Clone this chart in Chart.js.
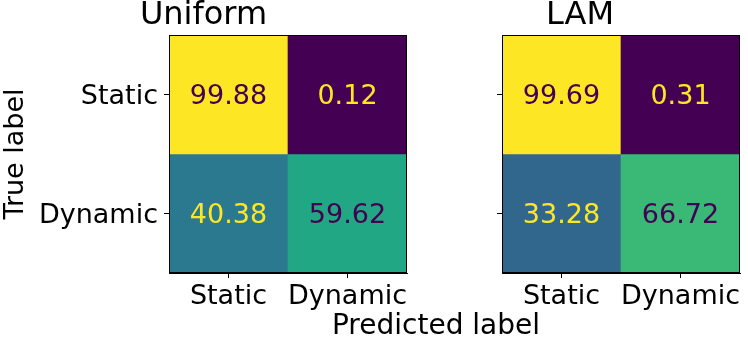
<!DOCTYPE html>
<html>
<head>
<meta charset="utf-8">
<script src="https://cdn.jsdelivr.net/npm/chart.js@4"></script>
<style>
  html, body { margin: 0; padding: 0; background: #fff; }
  #wrap { position: relative; width: 748px; height: 340px; overflow: hidden; font-family: 'DejaVu Sans', sans-serif; }
  #boxA { position: absolute; left: 0; top: 0; width: 420px; height: 340px; }
  #boxB { position: absolute; left: 420px; top: 0; width: 328px; height: 340px; }
  #xlabel { position: absolute; left: 236px; top: 311px; width: 400px; text-align: center;
            font-size: 28px; line-height: 28px; color: #000; }
</style>
</head>
<body>
<div id="wrap">
  <div id="boxA"><canvas id="chartA"></canvas></div>
  <div id="boxB"><canvas id="chartB"></canvas></div>
  <div id="xlabel">Predicted label</div>
</div>
<script>
// ---- datos ----
const classLabels = ['Static', 'Dynamic'];
const uniformTitle = 'Uniform';
const lamTitle = 'LAM';
// filas = etiqueta real, columnas = etiqueta predicha (%)
const uniformStatic = [99.88, 0.12];
const uniformDynamic = [40.38, 59.62];
const lamStatic = [99.69, 0.31];
const lamDynamic = [33.28, 66.72];

const FONT = 'DejaVu Sans';

// mapa de color viridis (paradas cada 0.1)
const viridisStops = ['#440154', '#482475', '#414487', '#355f8d', '#2a788e', '#21918c',
                      '#22a884', '#44bf70', '#7ad151', '#bddf26', '#fde725'];

function hexToRgb(h) {
    return [parseInt(h.slice(1, 3), 16), parseInt(h.slice(3, 5), 16), parseInt(h.slice(5, 7), 16)];
}

function viridis(t) {
    t = Math.max(0, Math.min(1, t));
    const pos = t * (viridisStops.length - 1);
    const i = Math.min(Math.floor(pos), viridisStops.length - 2);
    const f = pos - i;
    const a = hexToRgb(viridisStops[i]);
    const b = hexToRgb(viridisStops[i + 1]);
    const c = a.map((v, k) => Math.round(v + (b[k] - v) * f));
    return 'rgb(' + c.join(',') + ')';
}

/**
 * Texto de valores dentro de cada celda
 */
const cellTextPlugin = {
    id: 'cellText',
    afterDatasetsDraw(chart) {
        const ctx = chart.ctx;
        const { vmin, vmax } = chart.options.plugins.cellText;
        const thresh = (vmin + vmax) / 2;
        ctx.save();
        ctx.font = '27px "' + FONT + '"';
        ctx.textAlign = 'center';
        ctx.textBaseline = 'middle';
        chart.data.datasets.forEach((ds, di) => {
            const meta = chart.getDatasetMeta(di);
            meta.data.forEach((el, j) => {
                const v = ds.values[j];
                ctx.fillStyle = v < thresh ? viridis(1) : viridis(0);
                ctx.fillText(v.toFixed(2), el.x, (el.y + el.base) / 2 + 2);
            });
        });
        ctx.restore();
    }
};

/**
 * Marco negro alrededor del 치rea del gr치fico
 */
const framePlugin = {
    id: 'frame',
    afterDraw(chart) {
        const a = chart.chartArea;
        const ctx = chart.ctx;
        ctx.save();
        ctx.strokeStyle = '#000';
        ctx.lineWidth = 1;
        ctx.strokeRect(Math.round(a.left) + 0.5, Math.round(a.top) + 0.5,
                       Math.round(a.right - a.left) - 1, Math.round(a.bottom - a.top) - 1);
        ctx.restore();
    }
};

function makeMatrix(canvasId, title, rows, yAxisWidth, rightPad, showYLabels) {
    const all = rows.flat();
    const vmin = Math.min(...all);
    const vmax = Math.max(...all);
    const datasets = rows.map((row, r) => ({
        label: classLabels[r],
        data: row.map(() => [r, r + 1]),
        values: row,
        backgroundColor: row.map(v => viridis((v - vmin) / (vmax - vmin))),
        borderWidth: 0,
        grouped: false,
        barPercentage: 1,
        categoryPercentage: 1
    }));

    return new Chart(document.getElementById(canvasId), {
        type: 'bar',
        data: { labels: classLabels, datasets: datasets },
        plugins: [cellTextPlugin, framePlugin],
        options: {
            responsive: true,
            maintainAspectRatio: false,
            animation: false,
            layout: { padding: { left: 0, right: rightPad, top: 0, bottom: 0 } },
            plugins: {
                legend: { display: false },
                tooltip: { enabled: false },
                title: {
                    display: true,
                    text: title,
                    color: '#000',
                    font: { family: FONT, size: 32, weight: 'normal', lineHeight: 1.0 },
                    padding: { top: 0, bottom: 3 }
                },
                cellText: { vmin: vmin, vmax: vmax }
            },
            scales: {
                x: {
                    type: 'category',
                    offset: true,
                    grid: { offset: false, drawOnChartArea: false, tickLength: 5, color: '#000' },
                    border: { display: true, color: '#000' },
                    ticks: { color: '#000', padding: 3, maxRotation: 0, autoSkip: false,
                             font: { family: FONT, size: 27 } },
                    afterFit(scale) { scale.height = 67; }
                },
                y: {
                    type: 'linear',
                    min: 0,
                    max: 2,
                    reverse: true,
                    grid: { drawOnChartArea: false, tickLength: 5, color: '#000' },
                    border: { display: true, color: '#000' },
                    title: {
                        display: showYLabels,
                        text: 'True label',
                        color: '#000',
                        font: { family: FONT, size: 27 },
                        padding: { top: 0, bottom: 0 }
                    },
                    ticks: {
                        color: '#000',
                        padding: 6,
                        labelOffset: 2,
                        autoSkip: false,
                        font: { family: FONT, size: 27 },
                        callback: function(value) {
                            if (!showYLabels) return '';
                            return classLabels[Math.floor(value)];
                        }
                    },
                    afterBuildTicks(scale) {
                        scale.ticks = classLabels.map((_, i) => ({ value: i + 0.5 }));
                    },
                    afterFit(scale) { scale.width = yAxisWidth; }
                }
            }
        }
    });
}

makeMatrix('chartA', uniformTitle, [uniformStatic, uniformDynamic], 169, 13, true);
makeMatrix('chartB', lamTitle, [lamStatic, lamDynamic], 82, 8, false);
</script>
</body>
</html>
